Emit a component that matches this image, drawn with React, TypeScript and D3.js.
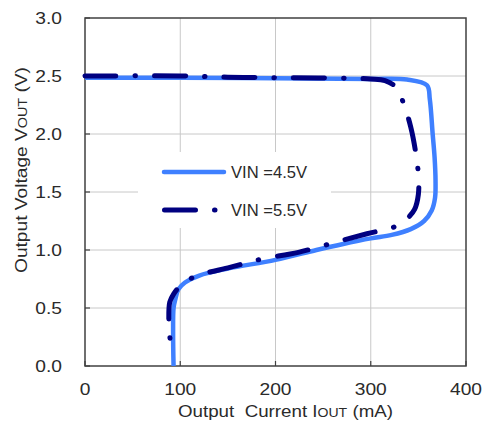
import React, { useEffect, useRef } from 'react';
import * as d3 from 'd3';

// VIN = 4.5V curve: [output current mA, output voltage V]
const vin45Current = [0, 100, 200, 300, 338, 359, 362, 365, 367, 368, 367.5, 364, 356, 342, 322, 300, 270, 243, 200, 150, 120, 105, 98, 95, 93, 92.5, 93];
const vin45Voltage = [2.485, 2.485, 2.48, 2.475, 2.47, 2.42, 2.3, 2.0, 1.8, 1.6, 1.45, 1.34, 1.25, 1.18, 1.13, 1.1, 1.05, 1.0, 0.915, 0.84, 0.78, 0.72, 0.66, 0.58, 0.5, 0.3, 0.0];

// VIN = 5.5V curve
const vin55Current = [0, 100, 150, 200, 300, 315, 327, 335, 342, 347, 350, 350, 346, 338, 325, 296, 260, 224, 187, 170, 152, 115, 100, 93, 89, 88, 89, 90];
const vin55Voltage = [2.5, 2.5, 2.49, 2.485, 2.475, 2.46, 2.4, 2.25, 2.06, 1.85, 1.65, 1.48, 1.35, 1.27, 1.2, 1.14, 1.06, 0.98, 0.925, 0.89, 0.85, 0.77, 0.69, 0.62, 0.55, 0.4, 0.27, 0.1];

const xTicks = [0, 100, 200, 300, 400];
const yTicks = [0, 0.5, 1.0, 1.5, 2.0, 2.5, 3.0];
const legendLabels = ['VIN =4.5V', 'VIN =5.5V'];

const BLUE = '#3F80FF';
const NAVY = '#000080';
const NAVY_DASH = '31 19 0.5 19';
const FONT = 'Arial, "Liberation Sans", sans-serif';
const TEXT = '#2a2a2a';

export default function App() {
  const svgRef = useRef<SVGSVGElement>(null);

  useEffect(() => {
    if (!svgRef.current) return;
    const svg = d3.select(svgRef.current);
    svg.selectAll('*').remove();

    const left = 85, right = 466, top = 18, bottom = 366;
    const x = d3.scaleLinear().domain([0, 400]).range([left, right]);
    const y = d3.scaleLinear().domain([0, 3]).range([bottom, top]);

    svg.append('rect').attr('width', 486).attr('height', 432).attr('fill', '#fff');

    // Grid lines
    const grid = svg.append('g').attr('stroke', '#c8c8c8').attr('stroke-width', 1);
    xTicks.slice(1, -1).forEach((t) => {
      grid.append('line').attr('x1', x(t)).attr('x2', x(t)).attr('y1', top).attr('y2', bottom);
    });
    yTicks.slice(1, -1).forEach((t) => {
      grid.append('line').attr('x1', left).attr('x2', right).attr('y1', y(t)).attr('y2', y(t));
    });

    // Legend box hides the grid behind it
    svg.append('rect').attr('x', 138).attr('y', 152).attr('width', 193).attr('height', 76).attr('fill', '#fff');

    // Frame and inward ticks
    svg.append('rect')
      .attr('x', left).attr('y', top)
      .attr('width', right - left).attr('height', bottom - top)
      .attr('fill', 'none').attr('stroke', '#404040').attr('stroke-width', 1.5);
    const ticks = svg.append('g').attr('stroke', '#404040').attr('stroke-width', 1.2);
    xTicks.forEach((t) => ticks.append('line').attr('x1', x(t)).attr('x2', x(t)).attr('y1', bottom).attr('y2', bottom - 5));
    yTicks.forEach((t) => ticks.append('line').attr('x1', left).attr('x2', left + 5).attr('y1', y(t)).attr('y2', y(t)));

    // Tick labels (glyphs are drawn a bit wide in the original)
    xTicks.forEach((t) => {
      svg.append('text')
        .attr('transform', `translate(${x(t)},395) scale(1.2,1)`)
        .attr('text-anchor', 'middle')
        .attr('font-family', FONT).attr('font-size', 16).attr('fill', TEXT)
        .text(String(t));
    });
    yTicks.forEach((t) => {
      svg.append('text')
        .attr('transform', `translate(62,${y(t)}) scale(1.2,1)`)
        .attr('text-anchor', 'end').attr('dy', '0.36em')
        .attr('font-family', FONT).attr('font-size', 16).attr('fill', TEXT)
        .text(t.toFixed(1));
    });

    // Axis titles
    const xTitle = svg.append('text')
      .attr('x', 178).attr('y', 417)
      .attr('textLength', 215).attr('lengthAdjust', 'spacingAndGlyphs')
      .attr('font-family', FONT).attr('font-size', 16).attr('fill', TEXT);
    xTitle.append('tspan').text('Output\u00a0 Current I');
    xTitle.append('tspan').attr('font-size', 12).text('OUT');
    xTitle.append('tspan').text(' (mA)');

    const yTitle = svg.append('text')
      .attr('transform', 'translate(27,273) rotate(-90)')
      .attr('textLength', 206).attr('lengthAdjust', 'spacingAndGlyphs')
      .attr('font-family', FONT).attr('font-size', 16).attr('fill', TEXT);
    yTitle.append('tspan').text('Output Voltage V');
    yTitle.append('tspan').attr('font-size', 12).text('OUT');
    yTitle.append('tspan').text(' (V)');

    // Curves
    const line = d3.line<[number, number]>()
      .x((d) => x(d[0]))
      .y((d) => y(d[1]))
      .curve(d3.curveCatmullRom.alpha(0.5));

    const blueData = vin45Current.map((c, i) => [c, vin45Voltage[i]] as [number, number]);
    const navyData = vin55Current.map((c, i) => [c, vin55Voltage[i]] as [number, number]);

    svg.append('path')
      .attr('d', line(blueData))
      .attr('fill', 'none').attr('stroke', BLUE).attr('stroke-width', 4.5)
      .attr('stroke-linejoin', 'round');

    svg.append('path')
      .attr('d', line(navyData))
      .attr('fill', 'none').attr('stroke', NAVY).attr('stroke-width', 5)
      .attr('stroke-dasharray', NAVY_DASH).attr('stroke-linecap', 'round');

    // Legend
    svg.append('line')
      .attr('x1', 164).attr('x2', 224).attr('y1', 172).attr('y2', 172)
      .attr('stroke', BLUE).attr('stroke-width', 4.5).attr('stroke-linecap', 'round');
    svg.append('line')
      .attr('x1', 164.5).attr('x2', 216).attr('y1', 210).attr('y2', 210)
      .attr('stroke', NAVY).attr('stroke-width', 5)
      .attr('stroke-dasharray', NAVY_DASH).attr('stroke-linecap', 'round');
    legendLabels.forEach((label, i) => {
      svg.append('text')
        .attr('x', 231).attr('y', 178 + i * 38)
        .attr('textLength', 76).attr('lengthAdjust', 'spacingAndGlyphs')
        .attr('font-family', FONT).attr('font-size', 16).attr('fill', TEXT)
        .text(label);
    });
  }, []);

  return (
    <div style={{ position: 'fixed', left: 0, top: 0 }}>
      <svg ref={svgRef} width={486} height={432} style={{ display: 'block' }} />
    </div>
  );
}
